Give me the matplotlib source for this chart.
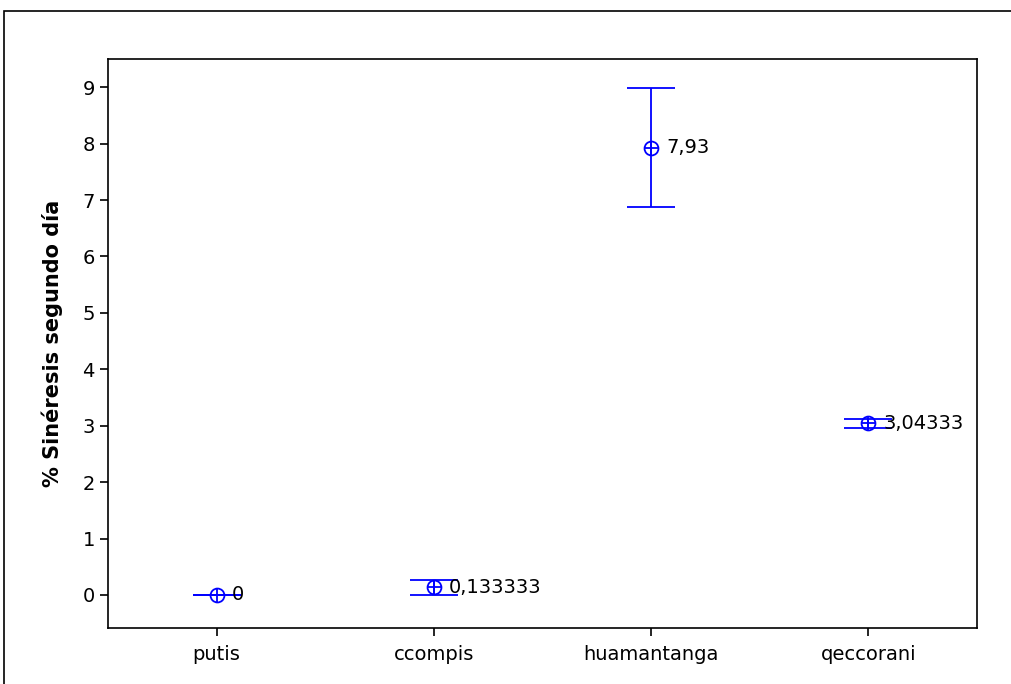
import numpy as np
import matplotlib.pyplot as plt
from matplotlib.patches import Rectangle

categories = ["putis", "ccompis", "huamantanga", "qeccorani"]
means = [0.0, 0.133333, 7.93, 3.04333]
errors = [0.0, 0.14, 1.05, 0.08]
labels = ["0", "0,133333", "7,93", "3,04333"]

plt.rcParams['font.family'] = ['DejaVu Sans']

fig = plt.figure(figsize=(10.12, 6.84), dpi=100)
ax = fig.add_axes([108 / 1012, 1 - 628 / 684, (977 - 108) / 1012, (628 - 59) / 684])

# outer frame, cut off at right/bottom like the original export
fig.patches.append(Rectangle((4 / 1012, -0.1), 1.2, 1 - 11 / 684 + 0.1,
                             transform=fig.transFigure, fill=False,
                             edgecolor='black', linewidth=1.2))

x = np.arange(len(categories))
ax.errorbar(x, means, yerr=errors, fmt='none', ecolor='#0000ff',
            elinewidth=1.3, capsize=17, capthick=1.3)
ax.plot(x, means, 'o', mfc='none', mec='#0000ff', ms=10, mew=1.3)
ax.plot(x, means, '+', color='#0000ff', ms=10, mew=1.3)

for xi, m, lab in zip(x, means, labels):
    ax.annotate(lab, (xi, m), xytext=(11, 0), textcoords='offset points',
                va='center', ha='left', fontsize=14)

ax.set_xlim(-0.5, 3.5)
ax.set_ylim(-0.585, 9.5)
ax.set_xticks(x)
ax.set_xticklabels(categories)
ax.set_yticks(range(10))
ax.tick_params(labelsize=14, length=6, width=1.2, direction='out')
ax.tick_params(axis='x', pad=6)
for s in ax.spines.values():
    s.set_linewidth(1.2)
ax.set_ylabel("% Sinéresis segundo día", fontsize=15, fontweight='bold', labelpad=14)

fig.savefig("out.png", dpi=100)
